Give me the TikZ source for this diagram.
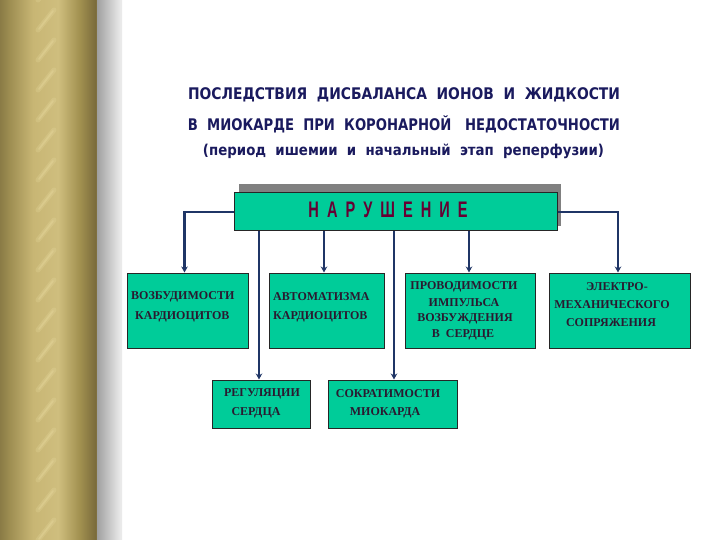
\documentclass[tikz,border=0pt]{standalone}
\usepackage{fontspec}
\setmainfont{Liberation Serif}
\newfontfamily\titlefont{DejaVu Sans}
\newfontfamily\hdrfont{Liberation Sans}
\usetikzlibrary{arrows.meta,calc}
\definecolor{boxgreen}{HTML}{00CC99}
\definecolor{linenavy}{HTML}{1F3566}
\definecolor{titlenavy}{HTML}{1A1A5E}
\definecolor{hdrtext}{HTML}{660033}
\definecolor{boxtext}{HTML}{2A1A30}
\definecolor{ca}{HTML}{DCD290}
\definecolor{cb}{HTML}{ECE4B0}
\definecolor{cc}{HTML}{B4A464}
\definecolor{cd}{HTML}{7E6F3E}
\definecolor{ce}{HTML}{9E8E52}
\definecolor{cf}{HTML}{C8B674}
\definecolor{cg}{HTML}{CFBE7E}
\definecolor{ch}{HTML}{A29150}
\definecolor{ci}{HTML}{7B6C3C}
\definecolor{cj}{HTML}{B7A968}
\definecolor{ck}{HTML}{D4C988}
\definecolor{cl}{HTML}{E6DCA0}
\definecolor{cm}{HTML}{7E7E7E}
\definecolor{sa}{HTML}{7A7A7A}
\definecolor{sb}{HTML}{A8A8A8}
\definecolor{sc}{HTML}{E8E8E8}
\definecolor{streak}{HTML}{EDE0A6}
\pgfdeclarehorizontalshading{column}{100bp}{
  color(0bp)=(ca); color(15bp)=(ca);
  color(15.5bp)=(cb); color(16.5bp)=(cc);
  color(22bp)=(cd); color(30bp)=(ce);
  color(42bp)=(cf); color(55bp)=(cg);
  color(66bp)=(ch); color(74bp)=(ci);
  color(82bp)=(cj); color(93bp)=(ck);
  color(96bp)=(cl); color(97bp)=(cm);
  color(100bp)=(cm)}
\pgfdeclarehorizontalshading{sidefade}{100bp}{
  color(0bp)=(sa); color(30bp)=(sb);
  color(70bp)=(sc); color(100bp)=(white)}
\tikzset{
  sbox/.style={draw=black!85, line width=1pt, fill=boxgreen, inner sep=0pt},
  conn/.style={draw=linenavy, line width=2.6pt},
  arr/.style={conn, -{Stealth[length=6pt,width=6.5pt]}},
  btxt/.style={font=\bfseries\fontsize{12}{14}\selectfont, text=boxtext, inner sep=0pt},
  ttl/.style={font=\titlefont\bfseries\fontsize{16}{18}\selectfont, text=titlenavy, inner sep=0pt}
}
\newcommand{\lsp}{\hspace{0.55em}}
\begin{document}
\begin{tikzpicture}[x=1pt,y=-1pt]
\useasboundingbox (0,0) rectangle (720,540);
\fill[white] (0,0) rectangle (720,540);
% golden column
\shade[shading=column] (0,0) rectangle (97,540);
\begin{scope}
  \clip (30,0) rectangle (64,540);
  \foreach \yy in {0,30,...,570} {
    \draw[streak, opacity=0.22, line width=5pt, line cap=round] (38,\yy) -- (54,\yy-20);
    \draw[streak, opacity=0.3, line width=1.8pt, line cap=round] (39,\yy-1) -- (53,\yy-19);
  }
\end{scope}
\shade[shading=sidefade] (97,0) rectangle (122,540);
% title
\node[ttl] (t1) at (404,95) {\resizebox{432pt}{\height}{ПОСЛЕДСТВИЯ\ \ ДИСБАЛАНСА\ \ ИОНОВ\ \ И\ \ ЖИДКОСТИ}};
\node[ttl] (t2) at (404,124) {\resizebox{432pt}{\height}{В\ \ МИОКАРДЕ\ \ ПРИ\ \ КОРОНАРНОЙ\ \ \ НЕДОСТАТОЧНОСТИ}};
\node[ttl, font=\titlefont\bfseries\fontsize{15}{17}\selectfont] (t3) at (403.5,151) {\resizebox{401pt}{\height}{(период\ \ ишемии\ \ и\ \ начальный\ \ этап\ \ реперфузии)}};
% header
\fill[black!50] (239,184) rectangle (561,226);
\node[sbox, minimum width=323pt, minimum height=38pt] (hdr) at (395.5,212) {};
\node[inner sep=0pt, text=hdrtext, anchor=base] (hdrt) at (388,218) {\resizebox{159pt}{15.5pt}{\hdrfont\bfseries Н\lsp А\lsp Р\lsp У\lsp Ш\lsp Е\lsp Н\lsp И\lsp Е}};
% boxes
\node[sbox, minimum width=121pt, minimum height=75pt] (b1) at (187.5,310.5) {};
\node[sbox, minimum width=115pt, minimum height=75pt] (b2) at (326.5,310.5) {};
\node[sbox, minimum width=130pt, minimum height=75pt] (b3) at (470,310.5) {};
\node[sbox, minimum width=141pt, minimum height=75pt] (b4) at (619.5,310.5) {};
\node[sbox, minimum width=98pt, minimum height=48pt] (b5) at (261,404) {};
\node[sbox, minimum width=129pt, minimum height=48pt] (b6) at (392.5,404) {};
% box texts
\node[btxt, anchor=west] (b1a) at (131,297) {ВОЗБУДИМОСТИ};
\node[btxt, anchor=west] (b1b) at (135,317) {КАРДИОЦИТОВ};
\node[btxt, anchor=west] (b2a) at (273,297) {АВТОМАТИЗМА};
\node[btxt, anchor=west] (b2b) at (273,317) {КАРДИОЦИТОВ};
\node[btxt] (b3a) at (464,287) {ПРОВОДИМОСТИ};
\node[btxt] (b3b) at (464,303) {ИМПУЛЬСА};
\node[btxt] (b3c) at (465,319) {ВОЗБУЖДЕНИЯ};
\node[btxt] (b3d) at (463,335) {В\ \ СЕРДЦЕ};
\node[btxt] (b4a) at (617,287) {ЭЛЕКТРО-};
\node[btxt] (b4b) at (612,305) {МЕХАНИЧЕСКОГО};
\node[btxt] (b4c) at (611,323) {СОПРЯЖЕНИЯ};
\node[btxt] (b5a) at (262,394) {РЕГУЛЯЦИИ};
\node[btxt] (b5b) at (256,413) {СЕРДЦА};
\node[btxt] (b6a) at (388,394) {СОКРАТИМОСТИ};
\node[btxt] (b6b) at (385,413) {МИОКАРДА};
% connectors
\draw[arr] (hdr.west) -| ([xshift=-3pt]b1.north);
\draw[arr] (hdr.east) -| ([xshift=-1.5pt]b4.north);
\draw[arr] ([xshift=-2.5pt]b2.north |- hdr.south) -- ([xshift=-2.5pt]b2.north);
\draw[arr] ([xshift=-1pt]b3.north |- hdr.south) -- ([xshift=-1pt]b3.north);
\draw[arr] ([xshift=-2pt]b5.north |- hdr.south) -- ([xshift=-2pt]b5.north);
\draw[arr] ([xshift=1.5pt]b6.north |- hdr.south) -- ([xshift=1.5pt]b6.north);
\end{tikzpicture}
\end{document}
